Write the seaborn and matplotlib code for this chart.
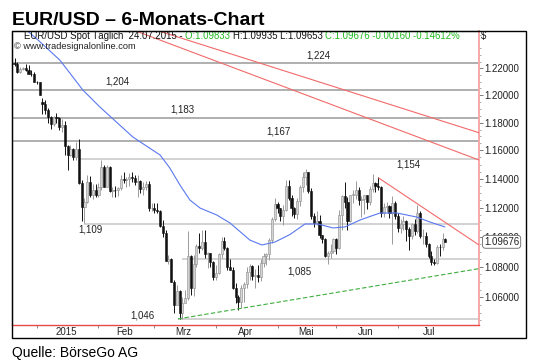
import numpy as np
import pandas as pd
import matplotlib
matplotlib.use("Agg")
import matplotlib.pyplot as plt
import seaborn as sns
from matplotlib.patches import Rectangle
from matplotlib.ticker import FixedLocator, NullFormatter, FixedFormatter

# ---------------- data ----------------
dates = pd.bdate_range("2014-12-22", "2015-07-24")

opens = [1.2240, 1.2230, 1.2175, 1.2195, 1.2200, 1.2185, 1.2160, 1.2155,
         1.2100, 1.2095, 1.1950, 1.1935, 1.1890, 1.1840, 1.1790, 1.1840, 1.1830, 1.1770, 1.1780, 1.1630, 1.1565,
         1.1610, 1.1550, 1.1610, 1.1370, 1.1205, 1.1240, 1.1380, 1.1290, 1.1320,
         1.1290, 1.1345, 1.1480, 1.1345, 1.1480, 1.1315, 1.1325, 1.1320, 1.1335, 1.1400, 1.1390, 1.1400, 1.1410,
         1.1405, 1.1375, 1.1385, 1.1330, 1.1340, 1.1365, 1.1195,
         1.1195, 1.1185, 1.1175, 1.1075, 1.1030, 1.0840, 1.0850, 1.0700, 1.0550, 1.0640, 1.0495, 1.0565, 1.0595,
         1.0870, 1.0660, 1.0820, 1.0940, 1.0925, 1.0965, 1.0885, 1.0890, 1.0830,
         1.0730, 1.0760, 1.0885, 1.0970, 1.0925, 1.0800, 1.0780, 1.0660, 1.0600, 1.0570, 1.0660, 1.0685, 1.0765,
         1.0805, 1.0740, 1.0745, 1.0730, 1.0825, 1.0870, 1.0885, 1.0980, 1.1125,
         1.1225, 1.1195, 1.1145, 1.1185, 1.1350, 1.1265, 1.1200, 1.1155, 1.1245, 1.1345, 1.1410, 1.1450, 1.1315,
         1.1145, 1.1095, 1.1110, 1.1010, 1.0985, 1.0875, 1.0895, 1.0905,
         1.0985, 1.0925, 1.1150, 1.1280, 1.1240, 1.1110, 1.1290, 1.1290, 1.1320, 1.1255, 1.1260, 1.1285, 1.1240,
         1.1330, 1.1370, 1.1350, 1.1340, 1.1165, 1.1205, 1.1210, 1.1165, 1.1235,
         1.1145, 1.1060, 1.1090, 1.1110, 1.1055, 1.1005, 1.1085, 1.1040, 1.1160, 1.1005, 1.1005, 1.0950, 1.0875,
         1.0830, 1.0825, 1.0935, 1.0930, 1.09833]
highs = [1.2275, 1.2245, 1.2210, 1.2210, 1.2235, 1.2225, 1.2190, 1.2170,
         1.2105, 1.2100, 1.1980, 1.1965, 1.1905, 1.1850, 1.1850, 1.1870, 1.1840, 1.1825, 1.1810, 1.1640, 1.1640,
         1.1615, 1.1660, 1.1680, 1.1390, 1.1265, 1.1425, 1.1420, 1.1365, 1.1365,
         1.1370, 1.1535, 1.1495, 1.1500, 1.1490, 1.1345, 1.1350, 1.1345, 1.1430, 1.1450, 1.1410, 1.1440, 1.1450,
         1.1430, 1.1430, 1.1390, 1.1375, 1.1385, 1.1385, 1.1235,
         1.1230, 1.1230, 1.1185, 1.1115, 1.1045, 1.0880, 1.0860, 1.0710, 1.0680, 1.0645, 1.0600, 1.0650, 1.1040,
         1.0880, 1.0880, 1.0950, 1.1030, 1.1050, 1.1050, 1.0900, 1.0895, 1.0840,
         1.0810, 1.0890, 1.1000, 1.1000, 1.0930, 1.0850, 1.0800, 1.0690, 1.0615, 1.0680, 1.0700, 1.0800, 1.0820,
         1.0815, 1.0785, 1.0810, 1.0850, 1.0890, 1.0895, 1.0990, 1.1135, 1.1265,
         1.1240, 1.1200, 1.1215, 1.1390, 1.1390, 1.1290, 1.1205, 1.1265, 1.1360, 1.1445, 1.1467, 1.1450, 1.1335,
         1.1160, 1.1175, 1.1150, 1.1015, 1.0990, 1.0905, 1.0950, 1.0990,
         1.0990, 1.1185, 1.1290, 1.1380, 1.1270, 1.1290, 1.1320, 1.1385, 1.1340, 1.1280, 1.1290, 1.1290, 1.1350,
         1.1436, 1.1380, 1.1410, 1.1350, 1.1235, 1.1240, 1.1220, 1.1280, 1.1245,
         1.1165, 1.1120, 1.1145, 1.1115, 1.1070, 1.1095, 1.1125, 1.1215, 1.1175, 1.1055, 1.1035, 1.0960, 1.0905,
         1.0850, 1.0945, 1.0955, 1.1030, 1.09935]
lows = [1.2220, 1.2165, 1.2165, 1.2185, 1.2180, 1.2155, 1.2140, 1.2095,
        1.2085, 1.2000, 1.1860, 1.1860, 1.1800, 1.1755, 1.1775, 1.1800, 1.1750, 1.1730, 1.1570, 1.1460, 1.1560,
        1.1530, 1.1530, 1.1365, 1.1110, 1.1098, 1.1230, 1.1275, 1.1260, 1.1270,
        1.1270, 1.1320, 1.1345, 1.1340, 1.1310, 1.1270, 1.1270, 1.1280, 1.1325, 1.1370, 1.1345, 1.1350, 1.1375,
        1.1355, 1.1275, 1.1300, 1.1290, 1.1320, 1.1175, 1.1175,
        1.1160, 1.1160, 1.1065, 1.1000, 1.0840, 1.0820, 1.0700, 1.0495, 1.0550, 1.0460, 1.0458, 1.0560, 1.0580,
        1.0615, 1.0610, 1.0800, 1.0890, 1.0910, 1.0860, 1.0795, 1.0800, 1.0710,
        1.0710, 1.0750, 1.0860, 1.0910, 1.0780, 1.0780, 1.0655, 1.0560, 1.0520, 1.0530, 1.0570, 1.0660, 1.0710,
        1.0710, 1.0660, 1.0700, 1.0705, 1.0800, 1.0815, 1.0845, 1.0960, 1.1110,
        1.1165, 1.1110, 1.1080, 1.1180, 1.1250, 1.1140, 1.1130, 1.1125, 1.1210, 1.1310, 1.1355, 1.1300, 1.1125,
        1.1065, 1.1080, 1.0990, 1.0960, 1.0865, 1.0820, 1.0860, 1.0890,
        1.0885, 1.0920, 1.1050, 1.1200, 1.1050, 1.1100, 1.1230, 1.1260, 1.1215, 1.1135, 1.1155, 1.1190, 1.1220,
        1.1310, 1.1310, 1.1320, 1.1135, 1.1135, 1.1170, 1.1130, 1.0955, 1.1120,
        1.1035, 1.1030, 1.1050, 1.0970, 1.0915, 1.0985, 1.1010, 1.1030, 1.0990, 1.0950, 1.0935, 1.0860, 1.0815,
        1.0809, 1.0820, 1.0875, 1.0915, 1.09653]
closes = [1.2230, 1.2175, 1.2195, 1.2200, 1.2185, 1.2160, 1.2155, 1.2100,
          1.2095, 1.2005, 1.1935, 1.1890, 1.1840, 1.1790, 1.1840, 1.1830, 1.1770, 1.1780, 1.1630, 1.1565, 1.1610,
          1.1550, 1.1610, 1.1370, 1.1205, 1.1240, 1.1380, 1.1290, 1.1320, 1.1290,
          1.1345, 1.1480, 1.1345, 1.1480, 1.1315, 1.1325, 1.1320, 1.1335, 1.1400, 1.1390, 1.1400, 1.1410, 1.1405,
          1.1375, 1.1385, 1.1330, 1.1340, 1.1365, 1.1195, 1.1195,
          1.1185, 1.1175, 1.1075, 1.1030, 1.0840, 1.0850, 1.0700, 1.0550, 1.0640, 1.0495, 1.0565, 1.0595, 1.0870,
          1.0660, 1.0820, 1.0940, 1.0925, 1.0965, 1.0885, 1.0890, 1.0830, 1.0730,
          1.0760, 1.0885, 1.0970, 1.0925, 1.0800, 1.0780, 1.0660, 1.0600, 1.0570, 1.0660, 1.0685, 1.0765, 1.0805,
          1.0740, 1.0745, 1.0730, 1.0825, 1.0870, 1.0885, 1.0980, 1.1125, 1.1225,
          1.1195, 1.1145, 1.1185, 1.1350, 1.1265, 1.1200, 1.1155, 1.1245, 1.1345, 1.1410, 1.1450, 1.1315, 1.1145,
          1.1095, 1.1110, 1.1010, 1.0985, 1.0875, 1.0895, 1.0905, 1.0985,
          1.0925, 1.1150, 1.1280, 1.1240, 1.1110, 1.1290, 1.1290, 1.1320, 1.1255, 1.1260, 1.1285, 1.1240, 1.1330,
          1.1370, 1.1350, 1.1340, 1.1165, 1.1205, 1.1210, 1.1165, 1.1235, 1.1145,
          1.1060, 1.1090, 1.1110, 1.1055, 1.1005, 1.1085, 1.1040, 1.1160, 1.1005, 1.1005, 1.0950, 1.0875, 1.0830,
          1.0825, 1.0935, 1.0930, 1.0985, 1.09676]

# moving average (bar index, value)
ma_idx = [0.1, 8.4, 16.2, 24.4, 30.5, 42.3, 52.0, 55.5, 59.1, 62.7, 66.3, 72.3, 77.0,
          84.1, 88.4, 93.1, 98.4, 103.8, 108.4, 113.8, 118.1, 123.5, 130.6, 136.7, 143.8, 148.5, 153.8]
ma_val = [1.2567, 1.2414, 1.2262, 1.2039, 1.1914, 1.1696, 1.1568, 1.1476, 1.1357, 1.1252, 1.1197, 1.1149, 1.1095,
          1.0979, 1.0946, 1.0966, 1.1016, 1.1088, 1.1088, 1.1061, 1.1068, 1.1115, 1.1163, 1.1163, 1.1135, 1.1101, 1.1068]

# horizontal support / resistance levels
levels = [1.224, 1.204, 1.183, 1.167, 1.154, 1.109, 1.085, 1.046]
level_labels = ["1,224", "1,204", "1,183", "1,167", "1,154", "1,109", "1,085", "1,046"]
level_start = [-1, -1, -1, -1, 23.4, 25.0, 60.0, 58.4]

# trend lines (bar index, value)
red1_idx, red1_val = [51.6, 166.0], [1.2483, 1.1727]
red2_idx, red2_val = [43.4, 166.0], [1.2483, 1.1532]
red3_idx, red3_val = [130.2, 166.0], [1.1405, 1.0946]
green_idx, green_val = [58.4, 166.0], [1.046, 1.0788]

month_names = ["2015", "Feb", "Mrz", "Apr", "Mai", "Jun", "Jul"]
yticks = [1.06, 1.08, 1.10, 1.12, 1.14, 1.16, 1.18, 1.20, 1.22]
last_price = 1.09676

# ---------------- figure ----------------
sns.set_theme(style="white")
plt.rcParams["font.family"] = ["Liberation Sans", "DejaVu Sans"]

W, H = 540, 360
fig = plt.figure(figsize=(5.4, 3.6), dpi=100)
fig.patch.set_facecolor("white")


def fx(x):
    return x / W


def fy(y):
    return 1 - y / H


ax = fig.add_axes([fx(12), fy(325), fx(479) - fx(12), fy(31) - fy(325)])
ax.set_facecolor("white")

idx = np.arange(len(dates))
o = np.array(opens); h = np.array(highs); l = np.array(lows); c = np.array(closes)
up = c >= o

# wicks
ax.vlines(idx[up], l[up], h[up], color="#9a9a9a", lw=0.7, zorder=3)
ax.vlines(idx[~up], l[~up], h[~up], color="#111111", lw=0.7, zorder=3)
# bodies
bh = np.maximum(np.abs(c - o), 0.0004)
bb = np.minimum(o, c)
ax.bar(idx[up], bh[up], bottom=bb[up], width=0.75, color="#d4d4d4",
       edgecolor="#8a8a8a", linewidth=0.4, zorder=4)
ax.bar(idx[~up], bh[~up], bottom=bb[~up], width=0.75, color="#111111",
       edgecolor="#111111", linewidth=0.4, zorder=4)

# horizontal levels
for i, (lv, st) in enumerate(zip(levels, level_start)):
    col = "#a9a9a9" if i < 4 else "#d2d2d2"
    lw = 1.3 if i < 4 else 1.4
    ax.hlines(lv, st, 166.5, color=col, lw=lw, zorder=1)

# moving average & trend lines
sns.lineplot(x=ma_idx, y=ma_val, ax=ax, color="#5a78f0", lw=0.8, zorder=5)
sns.lineplot(x=red1_idx, y=red1_val, ax=ax, color="#f26a6a", lw=0.8, zorder=5)
sns.lineplot(x=red2_idx, y=red2_val, ax=ax, color="#f26a6a", lw=0.8, zorder=5)
sns.lineplot(x=red3_idx, y=red3_val, ax=ax, color="#f26a6a", lw=0.8, zorder=5)
sns.lineplot(x=green_idx, y=green_val, ax=ax, color="#3fae3f", lw=0.8, zorder=5,
             linestyle=(0, (4, 2)))

ax.set_yscale("log")
ax.set_xlim(-0.9, 166.0)
ax.set_ylim(1.0421, 1.2483)

# y axis on right
ax.yaxis.tick_right()
ax.yaxis.set_major_locator(FixedLocator(yticks))
ax.yaxis.set_major_formatter(FixedFormatter([f"{v:.5f}" for v in yticks]))
minor = [v / 1000 for v in range(1045, 1250, 5) if v % 20 != 0]
ax.yaxis.set_minor_locator(FixedLocator(minor))
ax.yaxis.set_minor_formatter(NullFormatter())
ax.tick_params(axis="y", which="major", right=True, left=False, length=3, width=0.6,
               color="#666666", labelsize=7, labelcolor="#222222", pad=1)
ax.tick_params(axis="y", which="minor", right=True, left=False, length=1.5, width=0.5,
               color="#888888")

# x axis: month-start ticks, labels centred in months
full = pd.bdate_range("2014-12-22", "2015-07-31")
mstart = [i for i in range(1, len(full)) if full[i].month != full[i - 1].month]
mend = mstart[1:] + [len(full)]
centers = [(a + b - 1) / 2 for a, b in zip(mstart, mend)]
ax.xaxis.set_major_locator(FixedLocator(mstart))
ax.xaxis.set_major_formatter(NullFormatter())
ax.xaxis.set_minor_locator(FixedLocator(centers))
ax.xaxis.set_minor_formatter(FixedFormatter(month_names))
ax.tick_params(axis="x", which="major", bottom=True, length=2.5, width=0.6, color="#777777")
ax.tick_params(axis="x", which="minor", bottom=False, length=0, labelsize=7,
               labelcolor="#222222", pad=1.5)
ax.set_xlabel("")
ax.set_ylabel("")

for s in ["top", "left"]:
    ax.spines[s].set_color("black")
    ax.spines[s].set_linewidth(0.8)
ax.spines["right"].set_color("#f7a8a8")
ax.spines["right"].set_linewidth(1.4)
ax.spines["bottom"].set_color("#e84848")
ax.spines["bottom"].set_linewidth(1.0)

# level labels
label_pos = [(318, 55), (117, 82), (182, 110), (278, 131), (408, 165), (90, 230), (299, 272), (142, 315)]
for txt, (px, py) in zip(level_labels, label_pos):
    fig.text(fx(px), fy(py), txt, fontsize=7, ha="center", va="center", color="#222222")

# last price tag
fig.text(fx(484), fy(241.8), f"{last_price:.5f}", fontsize=7, ha="left", va="center",
         color="#222222", zorder=10,
         bbox=dict(boxstyle="round,pad=0.15,rounding_size=0.3", fc="white", ec="#666666", lw=0.6))

# outer frame
fig.add_artist(Rectangle((fx(12), fy(338)), fx(526) - fx(12), fy(31) - fy(338),
                         transform=fig.transFigure, fill=False, ec="black", lw=1.0))

# title & header
fig.text(fx(12), fy(24.8), "EUR/USD – 6-Monats-Chart", fontsize=14, fontweight="bold",
         ha="left", va="baseline", color="black")

hs = 6.95
chain = fig.text(fx(24), fy(39), "EUR/USD Spot Täglich  24.07.2015 - ", fontsize=hs,
                 ha="left", va="baseline", color="#111111")
pieces = [("O:1.09833 ", "#22bb22"), ("H:1.09935 L:1.09653 ", "#111111"),
          ("C:1.09676 -0.00160 -0.14612%", "#22bb22")]
for s, col in pieces:
    chain = ax.annotate(s, xy=(1, 0), xycoords=chain, xytext=(0, 0), textcoords="offset points",
                        fontsize=hs, color=col, ha="left", va="bottom", annotation_clip=False)

fig.text(fx(481), fy(39), "$", fontsize=hs, ha="left", va="baseline", color="#111111")
fig.text(fx(14), fy(49), "© www.tradesignalonline.com", fontsize=6.7, ha="left",
         va="baseline", color="#222222")

fig.text(fx(12), fy(356.5), "Quelle: BörseGo AG", fontsize=10,
         ha="left", va="baseline", color="black")

fig.savefig("out.png", dpi=100, facecolor="white")
